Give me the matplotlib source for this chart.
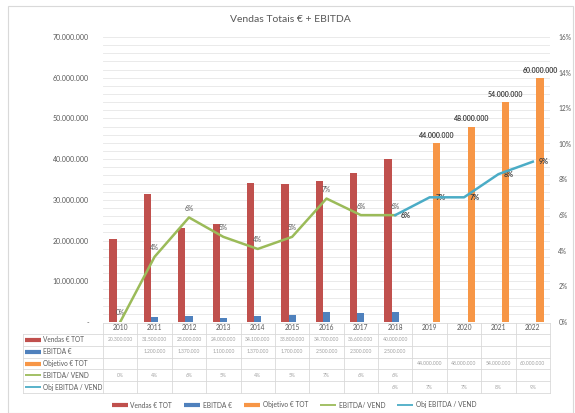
import matplotlib.pyplot as plt
import matplotlib.transforms as mtransforms
from matplotlib.lines import Line2D
from matplotlib.patches import Rectangle
import numpy as np

plt.rcParams['font.family'] = ['Lato', 'DejaVu Sans']

## data
anos = ['2010', '2011', '2012', '2013', '2014', '2015', '2016',
        '2017', '2018', '2019', '2020', '2021', '2022']
vendas = [20.3e6, 31.5e6, 23.0e6, 24.0e6, 34.1e6, 33.8e6, 34.7e6, 36.6e6, 40.0e6]   # 2010-2018
ebitda = [None, 1.2e6, 1.37e6, 1.1e6, 1.37e6, 1.7e6, 2.5e6, 2.3e6, 2.5e6]         # 2010-2018
objetivo = [44e6, 48e6, 54e6, 60e6]                                                 # 2019-2022
ebitda_vend = [0.0, 3.66, 5.87, 4.78, 4.1, 4.78, 6.93, 6.0, 6.0]                    # % 2010-2018
obj_ebitda_vend = [6.0, 7.0, 7.0, 8.3, 9.0]                                         # % 2018-2022

serie_nomes = ['Vendas € TOT', 'EBITDA €', 'Objetivo € TOT', 'EBITDA/ VEND', 'Obj EBITDA / VEND']
cores = ['#C0504D', '#4F81BD', '#F79646', '#9BBB59', '#4BACC6']

W, H = 575, 413
grey = '#595959'
grid_c = '#E6E6E6'


def fmt_num(v):
    return f"{v:,.0f}".replace(',', '.')


fig = plt.figure(figsize=(W / 100, H / 100), dpi=100)
fig.patches.append(Rectangle((8 / W, 0), 565 / W, 1 - 6 / H, transform=fig.transFigure,
                             fill=False, edgecolor='#D9D9D9', lw=0.8))

ax = fig.add_axes([103 / W, 91 / H, 447 / W, 285 / H])
ax2 = ax.twinx()

x = np.arange(len(anos))
bw = 0.21
idx_v = x[:len(vendas)]
ax.bar(idx_v - bw, vendas, width=bw, color=cores[0], zorder=3)
eb_x = [i for i, v in zip(idx_v, ebitda) if v is not None]
eb_y = [v for v in ebitda if v is not None]
ax.bar(eb_x, eb_y, width=bw, color=cores[1], zorder=3)
idx_o = x[9:]
bars_o = ax.bar(idx_o + bw, objetivo, width=bw, color=cores[2], zorder=3)
for b, v in zip(bars_o, objetivo):
    ax.annotate(fmt_num(v), (b.get_x() + b.get_width() / 2, v), xytext=(0, 3),
                textcoords='offset points', ha='center', va='bottom',
                fontsize=5, fontweight='bold', color='#404040', zorder=5)

ax.set_xlim(-0.5, len(anos) - 0.5)
ax.set_ylim(0, 70e6)
ax.set_yticks(np.arange(0, 70e6 + 1, 10e6))
ax.set_yticks(np.arange(0, 70e6 + 1, 2e6), minor=True)
ax.set_yticklabels(['-'] + [fmt_num(v) for v in np.arange(10e6, 70e6 + 1, 10e6)])
ax.grid(axis='y', which='both', color=grid_c, lw=0.6, zorder=0)
ax.set_axisbelow(True)
ax.tick_params(axis='y', which='both', length=0, pad=10, labelsize=5, labelcolor=grey)
ax.tick_params(axis='x', length=0, labelbottom=False)
for s in ax.spines.values():
    s.set_visible(False)

# percentage lines on the secondary axis
ax2.plot(x[:len(ebitda_vend)], np.array(ebitda_vend) / 100, color=cores[3], lw=1.8, zorder=4)
ax2.plot(x[8:], np.array(obj_ebitda_vend) / 100, color=cores[4], lw=1.8, zorder=4)
for i, v in zip(x[:len(ebitda_vend)], ebitda_vend):
    ax2.annotate(f"{v:.0f}%", (i, v / 100), xytext=(0, 4), textcoords='offset points',
                 ha='center', va='bottom', fontsize=4.8, color=grey)
for i, v in zip(x[8:], obj_ebitda_vend):
    ax2.annotate(f"{v:.0f}%", (i, v / 100), xytext=(4, 0), textcoords='offset points',
                 ha='left', va='center', fontsize=5.2, fontweight='bold', color='#404040')
ax2.set_ylim(0, 0.16)
ax2.set_yticks(np.arange(0, 0.161, 0.02))
ax2.set_yticklabels([f"{v}%" for v in range(0, 17, 2)])
ax2.tick_params(axis='y', length=0, pad=6, labelsize=4.8, labelcolor=grey)
for s in ax2.spines.values():
    s.set_visible(False)

fig.text(290 / W, 1 - 19 / H, 'Vendas Totais € + EBITDA', ha='center', va='center',
         fontsize=7.5, color=grey)

## data table below the plot
tr = mtransforms.blended_transform_factory(ax.transData, fig.transFigure)
ft = fig.transFigure
line_kw = dict(color='#D9D9D9', lw=0.6)

hdr_top, hdr_bot = 1 - 323 / H, 1 - 333 / H
row_edges = [334, 345.8, 357.6, 369.4, 381.2, 393]
row_edges = [1 - r / H for r in row_edges]
left_px, lab_right_px = 23 / W, 103 / W

# year header
fig.add_artist(Line2D([-0.5, len(anos) - 0.5], [hdr_top, hdr_top], transform=tr, **line_kw))
for i in range(len(anos) + 1):
    fig.add_artist(Line2D([i - 0.5, i - 0.5], [hdr_top, row_edges[-1]], transform=tr, **line_kw))
for i, a in enumerate(anos):
    fig.text(i, (hdr_top + hdr_bot) / 2, a, transform=tr, ha='center', va='center',
             fontsize=4.8, color=grey)

# row lines
for r in row_edges:
    fig.add_artist(Line2D([left_px, lab_right_px], [r, r], transform=ft, **line_kw))
    fig.add_artist(Line2D([-0.5, len(anos) - 0.5], [r, r], transform=tr, **line_kw))
fig.add_artist(Line2D([left_px, left_px], [row_edges[0], row_edges[-1]], transform=ft, **line_kw))

# row keys + labels
for k, (nome, cor) in enumerate(zip(serie_nomes, cores)):
    yc = (row_edges[k] + row_edges[k + 1]) / 2
    lw = 3 if k < 3 else 1.3
    fig.add_artist(Line2D([25 / W, 41 / W], [yc, yc], transform=ft, color=cor, lw=lw,
                          solid_capstyle='butt'))
    fig.text(43 / W, yc, nome, transform=ft, ha='left', va='center', fontsize=4.7, color=grey)

# cell values
tab_rows = [
    [fmt_num(v) for v in vendas] + [''] * 4,
    [fmt_num(v) if v is not None else '' for v in ebitda] + [''] * 4,
    [''] * 9 + [fmt_num(v) for v in objetivo],
    [f"{v:.0f}%" for v in ebitda_vend] + [''] * 4,
    [''] * 8 + [f"{v:.0f}%" for v in obj_ebitda_vend],
]
for k, row in enumerate(tab_rows):
    yc = (row_edges[k] + row_edges[k + 1]) / 2
    for i, t in enumerate(row):
        if t:
            fig.text(i, yc, t, transform=tr, ha='center', va='center', fontsize=3.6,
                     color='#A0A0A0')

# legend at the bottom
handles = [Line2D([], [], color=c, lw=3 if k < 3 else 1.3, solid_capstyle='butt')
           for k, c in enumerate(cores)]
fig.legend(handles, serie_nomes, ncol=5, loc='center', bbox_to_anchor=(294 / W, 1 - 405 / H),
           frameon=False, fontsize=4.8, labelcolor=grey, handlelength=2.4,
           handletextpad=0.4, columnspacing=1.8)

fig.savefig('out.png', dpi=100)
